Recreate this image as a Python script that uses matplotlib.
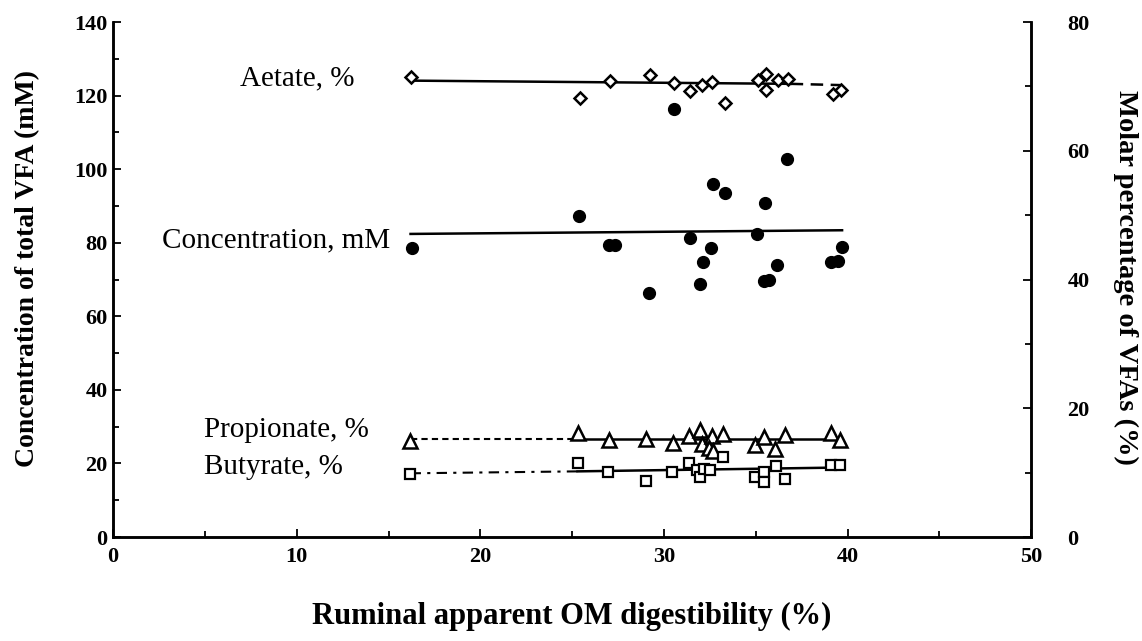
import matplotlib
matplotlib.use("Agg")
import matplotlib.pyplot as plt
from matplotlib.ticker import MultipleLocator

plt.rcParams['font.family'] = ['Liberation Serif', 'DejaVu Serif']

# total VFA concentration (mM, left axis)
conc_x = [16.26, 25.40, 27.00, 27.33, 29.18, 30.55, 31.44, 31.98, 32.12, 32.55, 32.66,
          33.35, 35.06, 35.51, 35.44, 35.72, 36.13, 36.70, 39.07, 39.47, 39.68]
conc = [78.7, 87.4, 79.4, 79.4, 66.4, 116.3, 81.4, 68.8, 74.7, 78.6, 95.9,
        93.4, 82.5, 90.7, 69.6, 69.9, 74.0, 102.7, 74.7, 75.1, 78.9]

# molar percentages (right axis)
ace_x = [16.24, 25.43, 27.07, 29.25, 30.55, 31.44, 32.09, 32.60, 33.35, 35.10, 35.55,
         35.58, 36.22, 36.74, 39.20, 39.64]
acetate = [71.5, 68.2, 70.8, 71.8, 70.5, 69.3, 70.2, 70.7, 67.5, 71.0, 72.0,
           69.5, 71.0, 71.1, 68.9, 69.4]

pro_x = [16.15, 25.33, 26.99, 29.04, 30.48, 31.35, 31.98, 32.07, 32.60, 32.48, 32.69,
         33.22, 34.97, 35.45, 36.04, 36.58, 39.10, 39.61]
propionate = [14.9, 16.2, 15.0, 15.3, 14.6, 15.7, 16.7, 14.5, 15.7, 13.9, 13.4,
              16.0, 14.3, 15.5, 13.6, 15.8, 16.1, 15.0]

but_x = [16.15, 25.33, 26.95, 29.04, 30.43, 31.35, 31.80, 31.98, 32.16, 32.51, 33.22,
         34.97, 35.45, 35.45, 36.11, 36.58, 39.10, 39.59]
butyrate = [9.8, 11.5, 10.1, 8.7, 10.1, 11.5, 10.4, 9.3, 10.5, 10.4, 12.4,
            9.4, 10.1, 8.6, 11.0, 9.0, 11.2, 11.2]

# fitted lines: start, break, end
fit_x = [16.2, 25.3, 39.7]
ace_fit_x = [16.2, 36.9, 39.7]
conc_fit = [82.4, 82.8, 83.4]
ace_fit = [70.9, 70.4, 70.2]
pro_fit = [15.3, 15.3, 15.3]
but_fit = [9.9, 10.2, 10.8]

fig = plt.figure(figsize=(11.42, 6.41), dpi=100)
ax = fig.add_axes([0.099, 0.1622, 0.804, 0.8034])
ax2 = ax.twinx()

lw = 1.8
# concentration
ax.plot([fit_x[0], fit_x[2]], [conc_fit[0], conc_fit[2]], color='black', lw=lw)
ax.plot(conc_x, conc, 'o', color='black', ms=8.5, ls='none')

# acetate
ax2.plot(ace_fit_x[:2], ace_fit[:2], color='black', lw=lw)
ax2.plot(ace_fit_x[1:], ace_fit[1:], color='black', lw=lw, ls=(0, (5, 3)))
ax2.plot(ace_x, acetate, 'D', mfc='white', mec='black', mew=1.8, ms=6.5, ls='none')

# propionate
ax2.plot(fit_x[:2], pro_fit[:2], color='black', lw=1.5, ls=(0, (3, 2)))
ax2.plot(fit_x[1:], pro_fit[1:], color='black', lw=lw)
ax2.plot(pro_x, propionate, '^', mfc='white', mec='black', mew=1.8, ms=9.5, ls='none')

# butyrate
ax2.plot(fit_x[:2], but_fit[:2], color='black', lw=1.5, ls=(0, (5, 3, 1.5, 3)))
ax2.plot(fit_x[1:], but_fit[1:], color='black', lw=lw)
ax2.plot(but_x, butyrate, 's', mfc='white', mec='black', mew=1.6, ms=7, ls='none')

ax.set_xlim(0, 50)
ax.set_ylim(0, 140)
ax2.set_ylim(0, 80)
ax.xaxis.set_major_locator(MultipleLocator(10))
ax.xaxis.set_minor_locator(MultipleLocator(5))
ax.yaxis.set_major_locator(MultipleLocator(20))
ax.yaxis.set_minor_locator(MultipleLocator(10))
ax2.yaxis.set_major_locator(MultipleLocator(20))
ax2.yaxis.set_minor_locator(MultipleLocator(10))

for a in (ax, ax2):
    a.spines['top'].set_visible(False)
    for s in ('left', 'right', 'bottom'):
        a.spines[s].set_linewidth(1.8)
    a.tick_params(which='major', direction='in', length=6, width=1.3, labelsize=16, pad=4)
    a.tick_params(which='minor', direction='in', length=4, width=1.3)
    for lab in a.get_yticklabels() + a.get_xticklabels():
        lab.set_fontweight('bold')
ax.tick_params(axis='x', pad=7)
ax2.tick_params(axis='y', pad=26)

ax.set_xlabel('Ruminal apparent OM digestibility (%)', fontsize=22, fontweight='bold', va='center')
ax.xaxis.set_label_coords(0.5, -0.155)
ax.set_ylabel('Concentration of total VFA (mM)', fontsize=20, fontweight='bold', va='center')
ax.yaxis.set_label_coords(-0.0926, 0.522)
ax2.set_ylabel('Molar percentage of VFAs (%)', fontsize=20.5, fontweight='bold',
               rotation=-90, va='center')
ax2.yaxis.set_label_coords(1.1024, 0.505)

# series labels
ax.text(6.9, 124.7, 'Aetate, %', fontsize=21, ha='left', va='center')
ax.text(2.65, 80.7, 'Concentration, mM', fontsize=21, ha='left', va='center')
ax.text(4.95, 29.0, 'Propionate, %', fontsize=21, ha='left', va='center')
ax.text(4.95, 19.0, 'Butyrate, %', fontsize=21, ha='left', va='center')

fig.savefig('out.png', dpi=100)
